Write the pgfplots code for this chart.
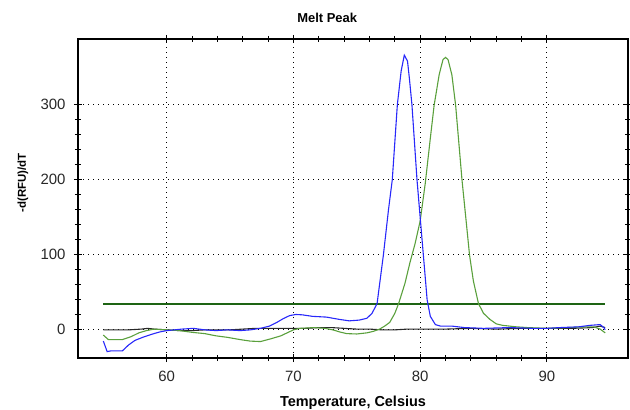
\documentclass[border=0pt]{standalone}
\usepackage{fontspec}
\setmainfont{Liberation Sans}
\usepackage{pgfplots}
\pgfplotsset{compat=1.18}
\usetikzlibrary{calc}

\definecolor{meltblue}{RGB}{40,40,250}
\definecolor{meltgreen}{RGB}{90,160,60}
\definecolor{thrgreen}{RGB}{30,100,20}
\definecolor{basegray}{RGB}{40,40,40}
\definecolor{tickgray}{RGB}{40,40,40}

\begin{document}
\begin{tikzpicture}
\begin{axis}[
  scale only axis, width=550bp, height=319bp,
  xmin=53, xmax=96.4, ymin=-37.5, ymax=387.5,
  xtick={60,70,80,90}, ytick={0,100,200,300},
  minor x tick num=4, minor y tick num=4,
  grid=major,
  major grid style={black, dash pattern=on 1bp off 4bp, line width=0.9bp},
  axis line style={black, line width=1.3bp},
  tick align=center, major tick length=8bp, minor tick length=6bp,
  every tick/.style={black, line width=1bp},
  /pgf/number format/assume math mode=true,
  tick label style={font=\fontsize{15}{17}\selectfont, text=tickgray},
  xticklabel style={yshift=-6bp},
  yticklabel style={xshift=-5bp},
  title={Melt Peak},
  title style={font=\bfseries\fontsize{13}{15}\selectfont,
    at={(rel axis cs:0.453,1.034)}, anchor=base, yshift=0pt},
  xlabel={Temperature, Celsius},
  xlabel style={font=\bfseries\fontsize{14.5}{17}\selectfont,
    at={(rel axis cs:0.5,-0.1527)}, anchor=base},
  ylabel={-d(RFU)/dT},
  ylabel style={font=\bfseries\fontsize{11.5}{13}\selectfont,
    at={(rel axis cs:-0.1,0.549)}, anchor=center},
]
% threshold
\addplot[thrgreen, line width=2bp] coordinates {(55,34) (94.6,34)};
% baseline (no template)
\addplot[basegray, line width=1.1bp] table {
55 0
56 0
57 0
58 1
58.5 2
59 1
60 0
61 -1
62 -1
63 0
64 0
65 0
66 1
67 2
68 2
69 2
70 2
71 2
72 3
73 3
74 2
75 1
76 1
77 0
78 0
79 1
80 1
82 1
84 2
86 1
88 2
90 2
92 2
93.6 3
94.2 5
94.6 3
};
% green sample
\addplot[meltgreen, line width=1.1bp] table {
55.0 -7
55.4 -13
56.0 -13
56.5 -13
57.2 -9
57.8 -4
58.4 -1
59.0 1
60.0 0
61.0 -1
62.1 -3.5
63.0 -5
63.9 -8
64.8 -10
65.8 -13
66.6 -15
67.4 -15.6
68.2 -12
69.0 -8
70.0 0
70.5 2
71.6 3
72.5 2
73.1 0
73.7 -3
74.2 -5
75.0 -5.5
75.8 -4
76.3 -2
76.8 1
77.2 5
77.6 10
78.0 22
78.3 35
78.8 62
79.2 90
79.6 115
80.0 145
80.4 195
80.8 255
81.1 299
81.5 340
81.8 360
82.0 363
82.2 360
82.5 340
82.8 299
83.3 200
83.9 99
84.2 65
84.6 35
85.0 22
85.5 14
86.0 8
86.5 6
87.6 4
88.5 3
90 2
91.5 3
93.2 4
93.7 4
94.2 1
94.6 -4
};
% blue sample
\addplot[meltblue, line width=1.1bp] table {
55.0 -15
55.3 -29
55.6 -28
56.0 -28
56.5 -28
57.0 -20
57.5 -14
58.1 -10
58.8 -6
59.4 -3
60.0 -1
60.6 0
61.2 1
62.1 2
63.0 0
63.9 -1
64.8 0
65.8 -1
66.6 0
67.4 2
68.1 5
68.7 10
69.2 15
69.7 19
70.2 20.5
70.7 20
71.5 18
72.6 17
73.6 14
74.4 12
75.2 13
75.8 15.5
76.2 22
76.6 35
77.1 100
77.5 160
77.8 200
78.2 300
78.5 345
78.75 366
79.0 358
79.15 335
79.35 300
79.75 200
80.25 100
80.55 40
80.8 18
81.2 7
81.6 5
82.5 5
83.5 3
85 2
87 3
89 2
90 2
91 3
92.5 4
93.4 6
94.2 7
94.5 3
94.6 0
};
\end{axis}
\pgfresetboundingbox
\path[use as bounding box] ($(current axis.south west)+(-78bp,-52bp)$) rectangle ($(current axis.north east)+(2bp,39bp)$);
\end{tikzpicture}
\end{document}
